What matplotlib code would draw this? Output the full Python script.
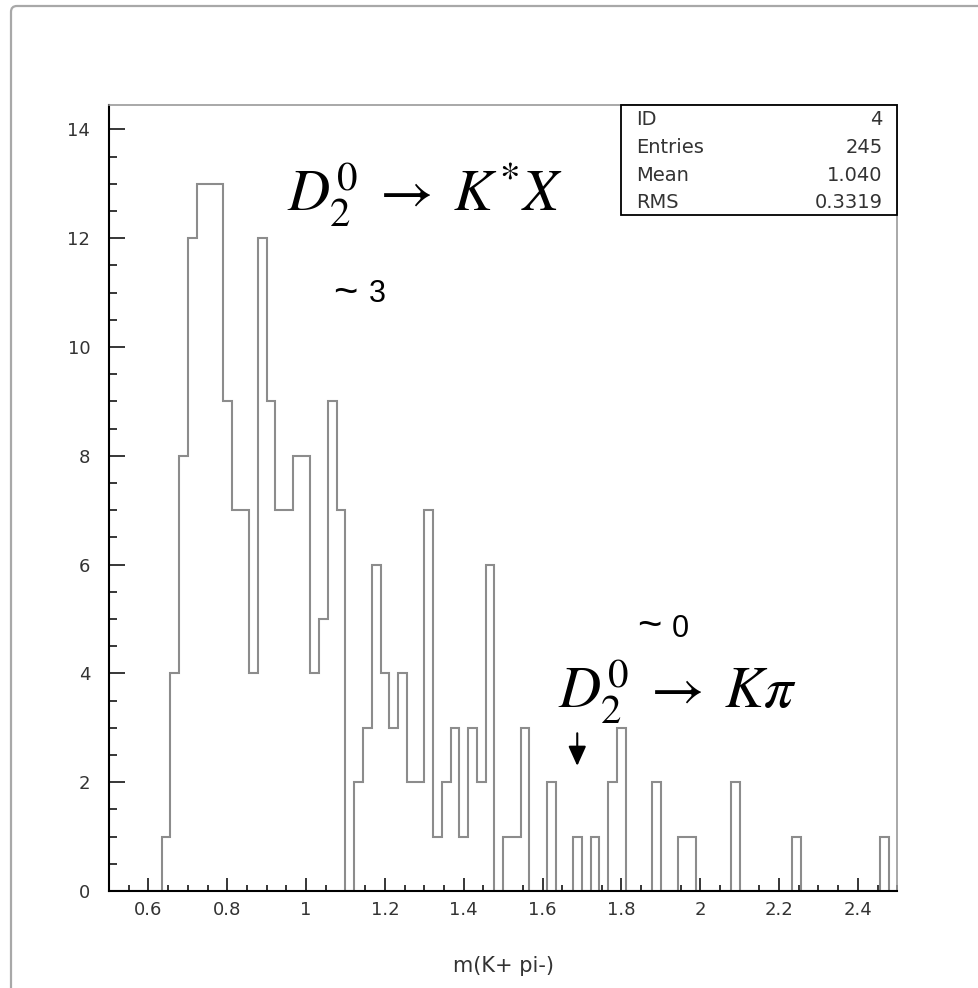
import numpy as np
import matplotlib
matplotlib.use("Agg")
import matplotlib.pyplot as plt
from matplotlib.patches import Rectangle, FancyArrowPatch, FancyBboxPatch
from matplotlib.ticker import MultipleLocator

# ---- data ----
x_min, x_max, n_bins = 0.5, 2.5, 90
counts = [0, 0, 0, 0, 0, 0, 1, 4, 8, 12,
          13, 13, 13, 9, 7, 7, 4, 12, 9, 7,
          7, 8, 8, 4, 5, 9, 7, 0, 2, 3,
          6, 4, 3, 4, 2, 2, 7, 1, 2, 3,
          1, 3, 2, 6, 0, 1, 1, 3, 0, 0,
          2, 0, 0, 1, 0, 1, 0, 2, 3, 0,
          0, 0, 2, 0, 0, 1, 1, 0, 0, 0,
          0, 2, 0, 0, 0, 0, 0, 0, 1, 0,
          0, 0, 0, 0, 0, 0, 0, 0, 1, 0]
stat_labels = ["ID", "Entries", "Mean", "RMS"]
stat_values = ["4", "245", "1.040", "0.3319"]
x_ticks = [0.6, 0.8, 1.0, 1.2, 1.4, 1.6, 1.8, 2.0, 2.2, 2.4]
x_tick_labels = ["0.6", "0.8", "1", "1.2", "1.4", "1.6", "1.8", "2", "2.2", "2.4"]
y_ticks = [0, 2, 4, 6, 8, 10, 12, 14]
x_label = "m(K+ pi-)"
arrow_x = 1.688

edges = np.linspace(x_min, x_max, n_bins + 1)

plt.rcParams["mathtext.fontset"] = "stix"

W, H = 979, 988
fig = plt.figure(figsize=(W / 100, H / 100), dpi=100)
fig.patch.set_facecolor("white")

def fx(px):
    return px / W

def fy(py):
    return 1 - py / H

# outer frame (left and top visible, rounded corner)
frame = FancyBboxPatch((fx(11), fy(1000)), fx(1000) - fx(11), fy(6) - fy(1000),
                       boxstyle="round,pad=0,rounding_size=0.006",
                       transform=fig.transFigure, facecolor="none",
                       edgecolor="#a8a8a8", lw=1.6, clip_on=False)
fig.add_artist(frame)

left, right, bottom, top = 109, 897.3, 891, 105
ax = fig.add_axes([fx(left), fy(bottom), fx(right) - fx(left), fy(top) - fy(bottom)])
ax.set_facecolor("none")

ax.stairs(counts, edges, baseline=0, fill=False, color="#8c8c8c", lw=1.5, zorder=2)

ax.set_xlim(x_min, x_max)
ax.set_ylim(0, 14.45)

ax.set_xticks(x_ticks)
ax.set_xticklabels(x_tick_labels)
ax.xaxis.set_minor_locator(MultipleLocator(0.05))
ax.set_yticks(y_ticks)
ax.yaxis.set_minor_locator(MultipleLocator(0.5))

for lab in ax.get_xticklabels() + ax.get_yticklabels():
    lab.set_fontfamily("DejaVu Sans")
    lab.set_fontsize(13)
    lab.set_color("#333333")

ax.tick_params(axis="x", which="major", direction="in", length=9.5, width=1.1, pad=7.5, colors="black", labelcolor="#333333")
ax.tick_params(axis="x", which="minor", direction="in", length=4, width=1.1, colors="black")
ax.tick_params(axis="y", which="major", direction="in", length=11.5, width=1.1, pad=13.5, colors="black", labelcolor="#333333")
ax.tick_params(axis="y", which="minor", direction="in", length=5.5, width=1.1, colors="black")

for s in ["left", "bottom"]:
    ax.spines[s].set_color("black")
    ax.spines[s].set_linewidth(1.5)
for s in ["top", "right"]:
    ax.spines[s].set_color("#9a9a9a")
    ax.spines[s].set_linewidth(1.2)

ax.set_xlabel(x_label, fontfamily="DejaVu Sans", fontsize=15, color="#333333", labelpad=26)

# stats box
box_x0, box_y0 = 0.650, 0.860
ax.add_patch(Rectangle((box_x0, box_y0), 1 - box_x0, 1 - box_y0, transform=ax.transAxes,
                       facecolor="white", edgecolor="black", lw=1.3, zorder=5, clip_on=False))
row_y = [0.981, 0.9457, 0.9109, 0.8762]
for lab, val, yy in zip(stat_labels, stat_values, row_y):
    ax.text(0.6685, yy, lab, transform=ax.transAxes, ha="left", va="center",
            fontfamily="DejaVu Sans", fontsize=14, color="#333333", zorder=6)
    ax.text(0.9815, yy, val, transform=ax.transAxes, ha="right", va="center",
            fontfamily="DejaVu Sans", fontsize=14, color="#333333", zorder=6)

# annotations
fig.text(fx(287), fy(211.7), r"$D_2^0\;\rightarrow\;K^{*}X$", fontsize=42,
         ha="left", va="baseline", color="black")
fig.text(fx(558), fy(708), r"$D_2^0\;\rightarrow\;K\pi$", fontsize=42,
         ha="left", va="baseline", color="black")

# "~ 3" and "~ 0"
fig.text(fx(333), fy(305), "~", fontsize=30, fontfamily="Liberation Sans",
         ha="left", va="baseline", color="black")
fig.text(fx(369), fy(302), "3", fontsize=22, fontfamily="Liberation Sans",
         ha="left", va="baseline", color="black")
fig.text(fx(637), fy(638), "~", fontsize=30, fontfamily="Liberation Sans",
         ha="left", va="baseline", color="black")
fig.text(fx(672), fy(637), "0", fontsize=22, fontfamily="Liberation Sans",
         ha="left", va="baseline", color="black")

ax.add_patch(FancyArrowPatch((arrow_x, 2.90), (arrow_x, 2.30),
                             arrowstyle="-|>,head_length=0.6,head_width=0.27",
                             mutation_scale=20, color="black", lw=1.5,
                             shrinkA=0, shrinkB=0, zorder=6))

fig.savefig("out.png", dpi=100)
